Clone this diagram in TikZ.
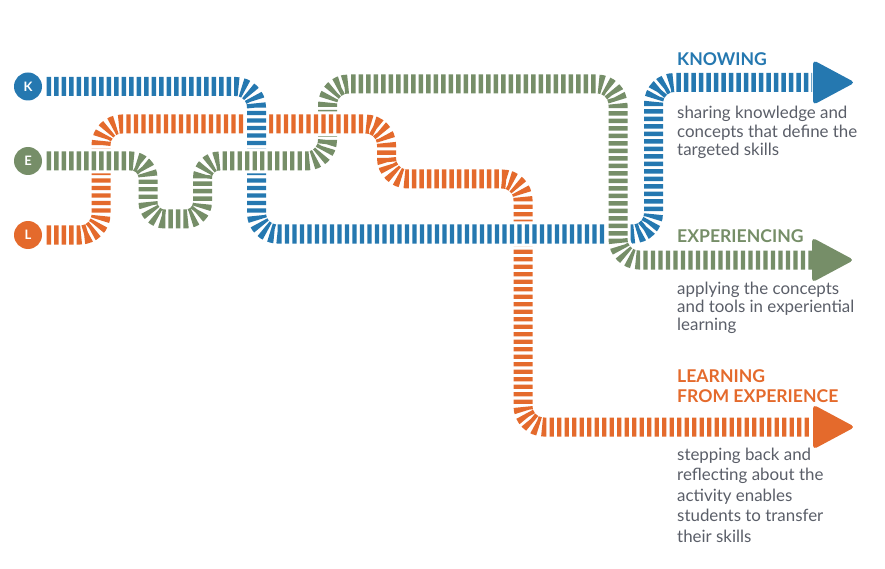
\documentclass[tikz,border=0pt]{standalone}
\usepackage{fontspec}
\setmainfont{Lato}
\definecolor{kblue}{HTML}{2578B0}
\definecolor{lorange}{HTML}{E46A2C}
\definecolor{egreen}{HTML}{768E68}
\definecolor{txtgray}{HTML}{5A5E68}
\begin{document}
\begin{tikzpicture}[x=1pt,y=-1pt,
  track/.style={line width=19pt, dash pattern=on 4.4pt off 3.1pt, rounded corners=21pt,
    preaction={draw=white, solid, line width=25pt}},
  head/.style={font=\bfseries\fontsize{17.6}{20}\selectfont, anchor=base west, inner sep=0pt},
  body/.style={font=\fontsize{16.9}{19}\selectfont, text=txtgray, anchor=base west, inner sep=0pt},
  dot/.style={circle, minimum size=28pt, inner sep=0pt, text=white, font=\bfseries\fontsize{13}{13}\selectfont},
  tip/.style={rounded corners=4pt}
]
\useasboundingbox (0,0) rectangle (885,569);

% start dots
\node[dot, fill=kblue]   (K) at (28,86.5) {K};
\node[dot, fill=egreen]  (E) at (28,161) {E};
\node[dot, fill=lorange] (L) at (28,235) {L};

% end coordinates
\coordinate (kend) at (812,82.5);
\coordinate (eend) at (812,260);
\coordinate (lend) at (812,427);

% orange track (L)
\draw[track, lorange] (L.east) ++(4.5,0) -- (101,235) -- (101,124) -- (386.5,124)
   -- (386.5,179) -- (523,179) -- (523,427) -- (lend);

% blue track (K)
\draw[track, kblue] (K.east) ++(4.5,0) -- (256.5,86.5) -- (256.5,234) -- (653.5,234)
   -- (653.5,82.5) -- (kend);

% green track (E)
\draw[track, egreen] (E.east) ++(4.5,0) [rounded corners=17pt] -- (148,161) -- (148,219)
   -- (202.5,219) -- (202.5,161) [rounded corners=21pt] -- (327.5,161) -- (327.5,84)
   -- (618,84) -- (618,260) -- (eend);

% orange over green at its crossing
\begin{scope}
\clip (314,108) rectangle (341,140);
\draw[track, lorange] (L.east) ++(4.5,0) -- (101,235) -- (101,124) -- (386.5,124)
   -- (386.5,179) -- (523,179) -- (523,427) -- (lend);
\end{scope}

% arrow heads
\fill[kblue, tip] (813,60) -- (855,82.5) -- (813,105) -- cycle;
\fill[egreen, tip] (812,237.5) -- (854,260) -- (812,282.5) -- cycle;
\fill[lorange, tip] (813,404.5) -- (855,427) -- (813,449.5) -- cycle;

% texts
\node[head, text=kblue] (kh) at (677,66) {KNOWING};
\node[body] (k1) at (677,119) {sharing knowledge and};
\node[body] (k2) at (677,137.5) {concepts that define the};
\node[body] (k3) at (677,156) {targeted skills};

\node[head, text=egreen] (eh) at (677,242) {EXPERIENCING};
\node[body] (e1) at (677,294) {applying the concepts};
\node[body] (e2) at (677,312) {and tools in experiential};
\node[body] (e3) at (677,330) {learning};

\node[head, text=lorange] (lh1) at (677,382) {LEARNING};
\node[head, text=lorange] (lh2) at (677,402) {FROM EXPERIENCE};
\node[body] (l1) at (677,460) {stepping back and};
\node[body] (l2) at (677,480.5) {reflecting about the};
\node[body] (l3) at (677,501) {activity enables};
\node[body] (l4) at (677,521.5) {students to transfer};
\node[body] (l5) at (677,542) {their skills};
\end{tikzpicture}
\end{document}
